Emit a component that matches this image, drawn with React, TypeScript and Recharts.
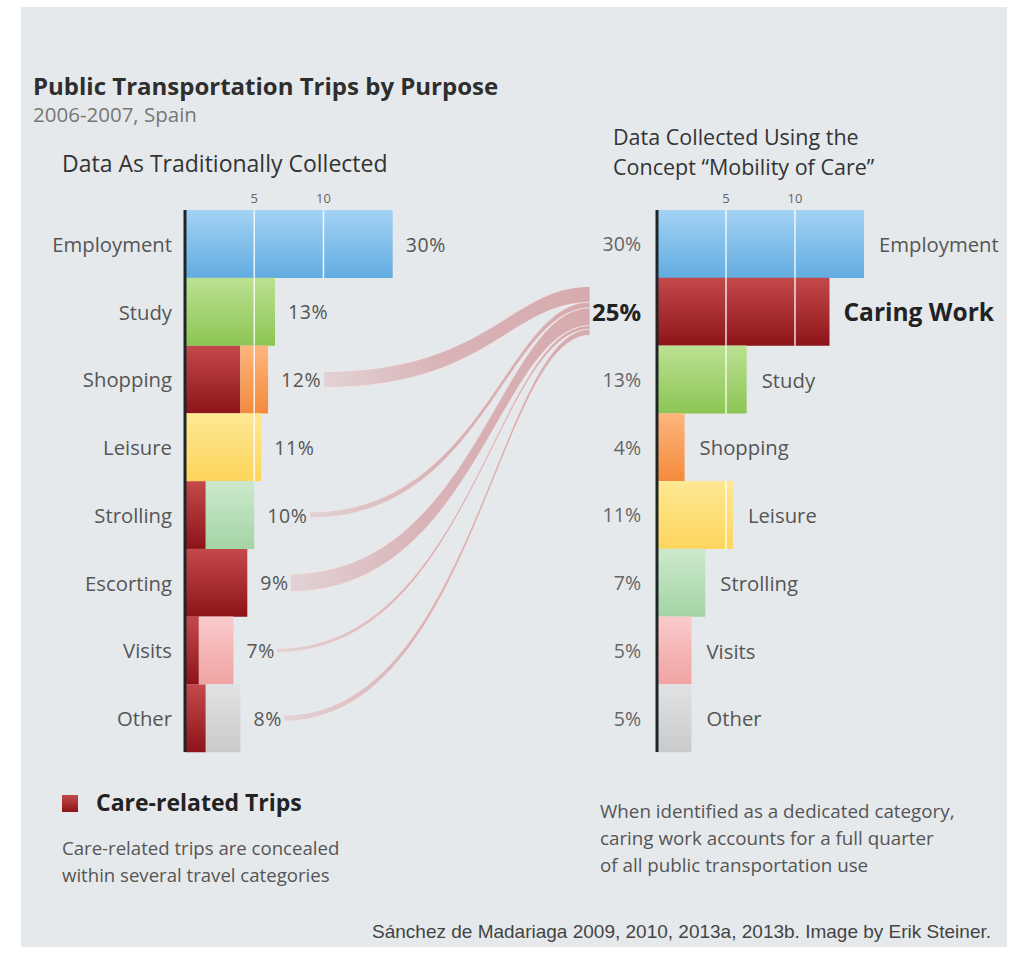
import React from 'react';
import { BarChart, Bar, XAxis, YAxis, Cell, LabelList } from 'recharts';

// ---------- data ----------
const leftCategories = ['Employment', 'Study', 'Shopping', 'Leisure', 'Strolling', 'Escorting', 'Visits', 'Other'];
const leftTotals = [30, 13, 12, 11, 10, 9, 7, 8];
const leftCare = [0, 0, 8, 0, 3, 9, 2, 3];

const rightCategories = ['Employment', 'Caring Work', 'Study', 'Shopping', 'Leisure', 'Strolling', 'Visits', 'Other'];
const rightValues = [30, 25, 13, 4, 11, 7, 5, 5];

const axisTickValues = [10, 20];
const axisTickLabels = ['5', '10'];

const leftData = leftCategories.map((name, i) => ({
  name,
  total: leftTotals[i],
  care: leftCare[i],
  rest: leftTotals[i] - leftCare[i],
}));
const rightData = rightCategories.map((name, i) => ({ name, value: rightValues[i] }));

// ---------- style ----------
const FONT = '"Open Sans", "Noto Sans", sans-serif';
const LEFT_MAX = 58.5;
const RIGHT_MAX = 50;
const RIBBON_K = 2; // px of ribbon thickness per percent
const LABEL_OFFSET = 13;

const gradKey: Record<string, string> = {
  Employment: 'blue',
  Study: 'green',
  Shopping: 'orange',
  Leisure: 'yellow',
  Strolling: 'mint',
  Escorting: 'red',
  Visits: 'pink',
  Other: 'gray',
  'Caring Work': 'red',
};
const gradStops: Record<string, [string, string]> = {
  blue: ['#a3d2f3', '#62ace1'],
  green: ['#bce192', '#8cc554'],
  orange: ['#fdb67e', '#f48a3b'],
  yellow: ['#fee893', '#fdd55c'],
  mint: ['#cde9cd', '#a3d4a5'],
  pink: ['#facbcb', '#f0a2a3'],
  gray: ['#e1e2e3', '#c8cacc'],
  red: ['#c4494b', '#8c1418'],
};

const sum = (a: number[]) => a.reduce((s, v) => s + v, 0);

const tickFmt = (v: number) => axisTickLabels[axisTickValues.indexOf(v)] ?? '';

function makeShape(getStart: (p: any) => number, getLen: (p: any) => number, withRibbon: boolean) {
  return (props: any) => {
    const { x, y, width, height, fill, payload } = props;
    const len = getLen(payload);
    if (!len || !(width > 0)) return <g />;
    const ppu = width / len;
    const axisX = x - getStart(payload) * ppu;
    const lines = axisTickValues
      .map((t) => axisX + t * ppu)
      .filter((lx) => lx > x + 0.5 && lx < x + width - 0.5);
    let ribbon: React.ReactNode = null;
    if (withRibbon) {
      const idx = leftCategories.indexOf(payload.name);
      const label = `${payload.total}%`;
      const barEnd = axisX + payload.total * ppu;
      const x0 = barEnd + LABEL_OFFSET + label.length * 12.5 + 5;
      const x1 = axisX + LEFT_MAX * ppu;
      const t = payload.care * RIBBON_K;
      const yTop0 = y + height / 2 - t / 2;
      const target = y + height / 2 - (idx - 1) * height;
      const above = sum(leftCare.slice(0, idx));
      const yTop1 = target - (sum(leftCare) * RIBBON_K) / 2 + above * RIBBON_K;
      const dx = x1 - x0;
      const c1 = x0 + 0.62 * dx;
      const c2 = x1 - 0.3 * dx;
      const d = `M${x0},${yTop0} C${c1},${yTop0} ${c2},${yTop1} ${x1},${yTop1} L${x1},${yTop1 + t} C${c2},${yTop1 + t} ${c1},${yTop0 + t} ${x0},${yTop0 + t} Z`;
      ribbon = <path d={d} fill="url(#ribbonGrad)" stroke="#f1e7e8" strokeWidth={0.8} />;
    }
    return (
      <g>
        {ribbon}
        <rect x={x} y={y} width={width} height={height} fill={fill} />
        {lines.map((lx, i) => (
          <line key={i} x1={lx} x2={lx} y1={y} y2={y + height} stroke="#ffffff" strokeOpacity={0.85} strokeWidth={1.5} />
        ))}
      </g>
    );
  };
}

const careShape = makeShape(() => 0, (p) => p.care, true);
const restShape = makeShape((p) => p.care, (p) => p.rest, false);
const rightShape = makeShape(() => 0, (p) => p.value, false);

const LeftTick = (props: any) => {
  const { x, y, payload } = props;
  return (
    <text x={x} y={y} textAnchor="end" dominantBaseline="central" fontFamily={FONT} fontSize={20.3} fill="#555">
      {payload.value}
    </text>
  );
};

const RightTick = (props: any) => {
  const { x, y, payload } = props;
  const i = rightCategories.indexOf(payload.value);
  const bold = payload.value === 'Caring Work';
  return (
    <text
      x={x}
      y={y}
      textAnchor="end"
      dominantBaseline="central"
      fontFamily={FONT}
      fontSize={bold ? 24 : 19.5}
      fontWeight={bold ? 700 : 400}
      fill={bold ? '#222' : '#666'}
    >
      {rightValues[i]}%
    </text>
  );
};

const TopTick = (props: any) => {
  const { x, y, payload } = props;
  return (
    <text x={x} y={y} textAnchor="middle" fontFamily={FONT} fontSize={13} fill="#666">
      {tickFmt(payload.value)}
    </text>
  );
};

const leftLabel = (p: any) => {
  const vb = p.viewBox && p.viewBox.width !== undefined ? p.viewBox : p;
  const { x, y, width, height } = vb;
  return (
    <text
      x={x + width + LABEL_OFFSET}
      y={y + height / 2}
      dominantBaseline="central"
      fontFamily={FONT}
      fontSize={19.5}
      letterSpacing={0.6}
      fill="#555"
    >
      {p.value}%
    </text>
  );
};

const rightLabel = (p: any) => {
  const vb = p.viewBox && p.viewBox.width !== undefined ? p.viewBox : p;
  const { x, y, width, height } = vb;
  const bold = p.value === 'Caring Work';
  return (
    <text
      x={x + width + (bold ? 14 : 15)}
      y={y + height / 2}
      dominantBaseline="central"
      fontFamily={FONT}
      fontSize={bold ? 24.5 : 20.3}
      fontWeight={bold ? 700 : 400}
      fill={bold ? '#222' : '#555'}
    >
      {p.value}
    </text>
  );
};

export default function App() {
  return (
    <div style={{ position: 'absolute', left: 0, top: 0, width: 1013, height: 954, background: '#ffffff', overflow: 'hidden' }}>
      <svg width={1013} height={954} style={{ position: 'absolute', left: 0, top: 0 }}>
        <defs>
          {Object.entries(gradStops).map(([k, [a, b]]) => (
            <linearGradient key={k} id={`g-${k}`} x1="0" y1="0" x2="0" y2="1">
              <stop offset="0%" stopColor={a} />
              <stop offset="100%" stopColor={b} />
            </linearGradient>
          ))}
          <linearGradient id="ribbonGrad" x1="0" y1="0" x2="1" y2="0">
            <stop offset="0%" stopColor="#e2d2d5" />
            <stop offset="45%" stopColor="#d9b3b6" />
            <stop offset="100%" stopColor="#d6abae" />
          </linearGradient>
        </defs>
        <rect x={21} y={7} width={986} height={940} fill="#e5e9ec" />
        <text x={33} y={95} fontFamily={FONT} fontWeight={700} fontSize={24} fill="#2e2e2e">
          Public Transportation Trips by Purpose
        </text>
        <text x={33} y={122} fontFamily={FONT} fontSize={20.5} fill="#777">
          2006-2007, Spain
        </text>
        <text x={62} y={172} fontFamily={FONT} fontSize={23} fill="#333">
          Data As Traditionally Collected
        </text>
        <text fontFamily={FONT} fontSize={21.5} fill="#333">
          <tspan x={613} y={145}>Data Collected Using the</tspan>
          <tspan x={613} y={175}>Concept “Mobility of Care”</tspan>
        </text>
        <rect x={62} y={795} width={16} height={17} fill="url(#g-red)" />
        <text x={96} y={811} fontFamily={FONT} fontWeight={700} fontSize={23} fill="#222">
          Care-related Trips
        </text>
        <text fontFamily={FONT} fontSize={18.6} fill="#555">
          <tspan x={62} y={855}>Care-related trips are concealed</tspan>
          <tspan x={62} y={882}>within several travel categories</tspan>
        </text>
        <text fontFamily={FONT} fontSize={18.8} fill="#555">
          <tspan x={600} y={818}>When identified as a dedicated category,</tspan>
          <tspan x={600} y={845}>caring work accounts for a full quarter</tspan>
          <tspan x={600} y={872}>of all public transportation use</tspan>
        </text>
        <text x={991} y={938} textAnchor="end" fontFamily='"Liberation Sans", Arial, sans-serif' fontSize={19} fill="#444">
          Sánchez de Madariaga 2009, 2010, 2013a, 2013b. Image by Erik Steiner.
        </text>
      </svg>

      <div style={{ position: 'absolute', left: 20, top: 180 }}>
        <BarChart
          width={570}
          height={590}
          data={leftData}
          layout="vertical"
          barCategoryGap={0}
          margin={{ top: 0, right: 0, bottom: 18, left: 0 }}
        >
          <XAxis
            type="number"
            orientation="top"
            domain={[0, LEFT_MAX]}
            ticks={axisTickValues}
            height={30}
            axisLine={false}
            tickLine={false}
            tickSize={0}
            tickMargin={7}
            tick={<TopTick />}
          />
          <YAxis
            type="category"
            dataKey="name"
            width={165}
            tickLine={false}
            tickSize={0}
            tickMargin={13}
            axisLine={{ stroke: '#1e2529', strokeWidth: 3 }}
            tick={<LeftTick />}
          />
          <Bar dataKey="care" stackId="a" fill="url(#g-red)" shape={careShape} isAnimationActive={false} />
          <Bar dataKey="rest" stackId="a" shape={restShape} isAnimationActive={false}>
            {leftData.map((d) => (
              <Cell key={d.name} fill={`url(#g-${gradKey[d.name]})`} />
            ))}
            <LabelList dataKey="total" content={leftLabel} />
          </Bar>
        </BarChart>
      </div>

      <div style={{ position: 'absolute', left: 575, top: 180 }}>
        <BarChart
          width={427}
          height={590}
          data={rightData}
          layout="vertical"
          barCategoryGap={0}
          margin={{ top: 0, right: 0, bottom: 18, left: 0 }}
        >
          <XAxis
            type="number"
            orientation="top"
            domain={[0, RIGHT_MAX]}
            ticks={axisTickValues}
            height={30}
            axisLine={false}
            tickLine={false}
            tickSize={0}
            tickMargin={7}
            tick={<TopTick />}
          />
          <YAxis
            type="category"
            dataKey="name"
            width={82}
            tickLine={false}
            tickSize={0}
            tickMargin={16}
            axisLine={{ stroke: '#1e2529', strokeWidth: 3 }}
            tick={<RightTick />}
          />
          <Bar dataKey="value" shape={rightShape} isAnimationActive={false}>
            {rightData.map((d) => (
              <Cell key={d.name} fill={`url(#g-${gradKey[d.name]})`} />
            ))}
            <LabelList dataKey="name" content={rightLabel} />
          </Bar>
        </BarChart>
      </div>
    </div>
  );
}
